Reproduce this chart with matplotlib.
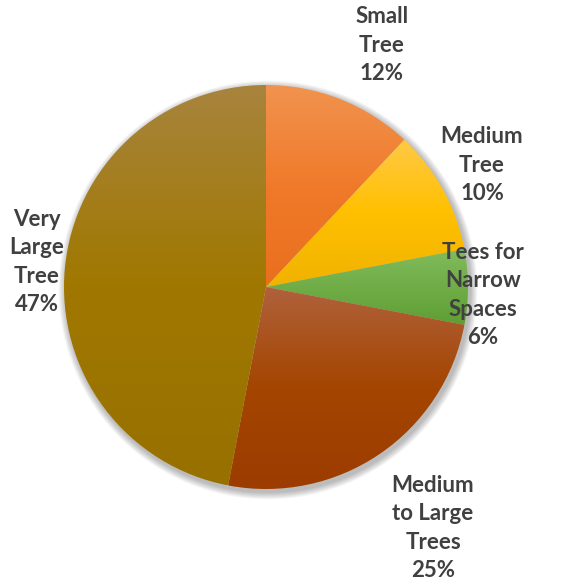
import matplotlib.pyplot as plt
import numpy as np
from matplotlib.colors import LinearSegmentedColormap
from matplotlib.patches import Circle

categories = ['Small\nTree', 'Medium\nTree', 'Tees for\nNarrow\nSpaces',
              'Medium\nto Large\nTrees', 'Very\nLarge\nTree']
shares = [12, 10, 6, 25, 47]

# top / middle / bottom colour of each slice's vertical gradient
grad_colors = [
    ['#F1934F', '#F07A2A', '#E96F1E'],
    ['#FFC946', '#FFC000', '#F1B200'],
    ['#82BB5C', '#70AD47', '#5F9E34'],
    ['#B0613C', '#A44500', '#9C3C00'],
    ['#A8843E', '#A07800', '#987000'],
]

label_pos = [(382, 45), (482, 165), (483, 295), (433, 528), (37, 262)]

W, H = 582, 585
fig = plt.figure(figsize=(W / 100, H / 100), dpi=100)
ax = fig.add_axes([0, 0, 1, 1])

cx, cy, r = 266, H - 287, 202

# soft shadow
for i in range(8):
    ax.add_patch(Circle((cx + 2, cy - 3), r + 1 + i * 0.9, color='black',
                        alpha=0.035, lw=0, zorder=0))

wedges, _ = ax.pie(shares, center=(cx, cy), radius=r, startangle=90,
                   counterclock=False, frame=True,
                   wedgeprops=dict(linewidth=0))
ax.set_xlim(0, W)
ax.set_ylim(0, H)
ax.axis('off')

grad = np.linspace(0, 1, 256).reshape(-1, 1)
for w, cols in zip(wedges, grad_colors):
    bb = w.get_path().get_extents()
    cmap = LinearSegmentedColormap.from_list('g', [cols[2], cols[1], cols[0]])
    im = ax.imshow(grad, cmap=cmap, extent=[bb.x0, bb.x1, bb.y0, bb.y1],
                   origin='lower', aspect='auto', zorder=2)
    im.set_clip_path(w)
    w.set_facecolor('none')

for lab, val, (x, y) in zip(categories, shares, label_pos):
    ax.text(x, H - y, f'{lab}\n{val}%', ha='center', va='center',
            fontsize=16, fontweight='bold', color='#404040',
            family='Lato', linespacing=1.45, zorder=5)

fig.savefig('out.png', dpi=100)
